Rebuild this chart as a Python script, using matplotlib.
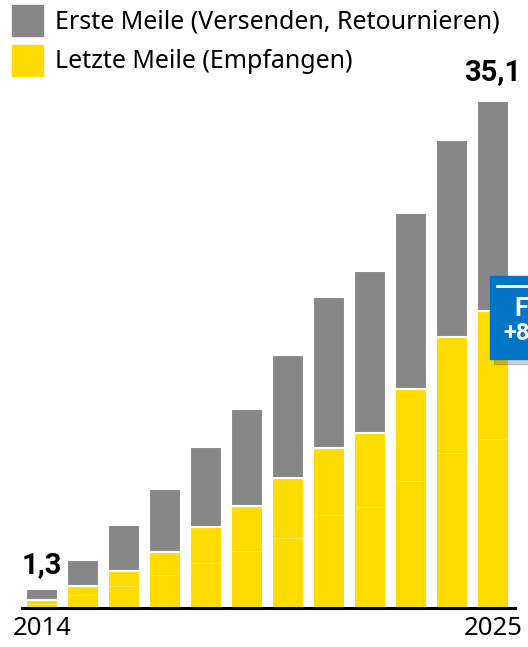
import matplotlib
matplotlib.use("Agg")
import matplotlib.pyplot as plt
from matplotlib.patches import Rectangle
import numpy as np

# ---- data ----
years = ["2014", "2015", "2016", "2017", "2018", "2019", "2020", "2021", "2022", "2023", "2024", "2025"]
total = [1.3, 3.33, 5.77, 8.22, 11.17, 13.76, 17.50, 21.52, 23.34, 27.34, 32.40, 35.1]
last_mile = [0.58, 1.52, 2.54, 3.86, 5.59, 7.09, 9.03, 11.10, 12.14, 15.17, 18.79, 20.55]
last_mile_split = [0.28, 0.92, 1.52, 2.29, 3.10, 3.95, 4.83, 6.44, 7.00, 8.80, 10.74, 11.71]
first_mile = [t - l for t, l in zip(total, last_mile)]
series_names = ["Erste Meile (Versenden, Retournieren)", "Letzte Meile (Empfangen)"]
end_labels = ["1,3", "35,1"]
box_texts = ["F", "+8"]

GRAY = "#878787"
YELLOW = "#FFDC00"
BLUE = "#0075C5"
BOLD_FONT = ['Roboto', 'DejaVu Sans']

W, H = 528, 647
plt.rcParams['font.family'] = ['Noto Sans', 'DejaVu Sans']
fig = plt.figure(figsize=(W / 100, H / 100), dpi=100)

def fx(px):
    return px / W

def fy(py):
    return 1 - py / H

ax = fig.add_axes([fx(22), fy(608), fx(515) - fx(22), fy(30.6) - fy(608)])
x = np.arange(len(years))
bw = 0.78
ax.bar(x, last_mile, width=bw, color=YELLOW, edgecolor="white", linewidth=1.5, zorder=2)
ax.bar(x, first_mile, width=bw, bottom=last_mile, color=GRAY, edgecolor="white", linewidth=1.5, zorder=2)
ax.hlines(last_mile_split, x - bw / 2 + 0.03, x + bw / 2 - 0.03, color="#FFE650", linewidth=0.7, zorder=3)

ax.set_xlim(-0.488, 11.537)
ax.set_ylim(0, 40)
for s in ["top", "right", "left"]:
    ax.spines[s].set_visible(False)
ax.spines["bottom"].set_linewidth(2.2)
ax.spines["bottom"].set_color("black")
ax.set_yticks([])
ax.set_xticks([0, len(years) - 1])
ax.set_xticklabels([years[0], years[-1]], fontsize=18.5)
ax.tick_params(axis="x", length=0, pad=6)

# end labels
ax.annotate(end_labels[0], (0, total[0]), xytext=(0, 7), textcoords="offset points",
            ha="center", va="bottom", fontsize=21, fontweight="bold", family=BOLD_FONT)
ax.annotate(end_labels[1], (11, total[-1]), xytext=(0, 11), textcoords="offset points",
            ha="center", va="bottom", fontsize=21, fontweight="bold", family=BOLD_FONT)

# legend
for i, (name, col) in enumerate(zip(series_names, [GRAY, YELLOW])):
    top = 5 + i * 40
    fig.add_artist(Rectangle((fx(12), fy(top + 31)), fx(43) - fx(12), fy(top) - fy(top + 31),
                             transform=fig.transFigure, color=col))
    fig.text(fx(55), fy(top + 17), name, fontsize=18, va="center", ha="left")

# blue callout box (cut at right edge)
fig.add_artist(Rectangle((fx(494), fy(364)), fx(540) - fx(494), fy(281) - fy(364),
                         transform=fig.transFigure, color="#000000", alpha=0.18, zorder=4))
fig.add_artist(Rectangle((fx(490), fy(359)), fx(540) - fx(490), fy(276) - fy(359),
                         transform=fig.transFigure, color=BLUE, zorder=5))
fig.add_artist(plt.Line2D([fx(497), fx(530)], [fy(286), fy(286)], transform=fig.transFigure,
                          color="white", linewidth=2, zorder=6))
fig.text(fx(514), fy(309), box_texts[0], color="white", fontsize=18, fontweight="bold",
         family=BOLD_FONT, va="center", ha="left", zorder=7)
fig.text(fx(503), fy(333), box_texts[1], color="white", fontsize=17, fontweight="bold",
         family=BOLD_FONT, va="center", ha="left", zorder=7)

fig.savefig("out.png", dpi=100)
